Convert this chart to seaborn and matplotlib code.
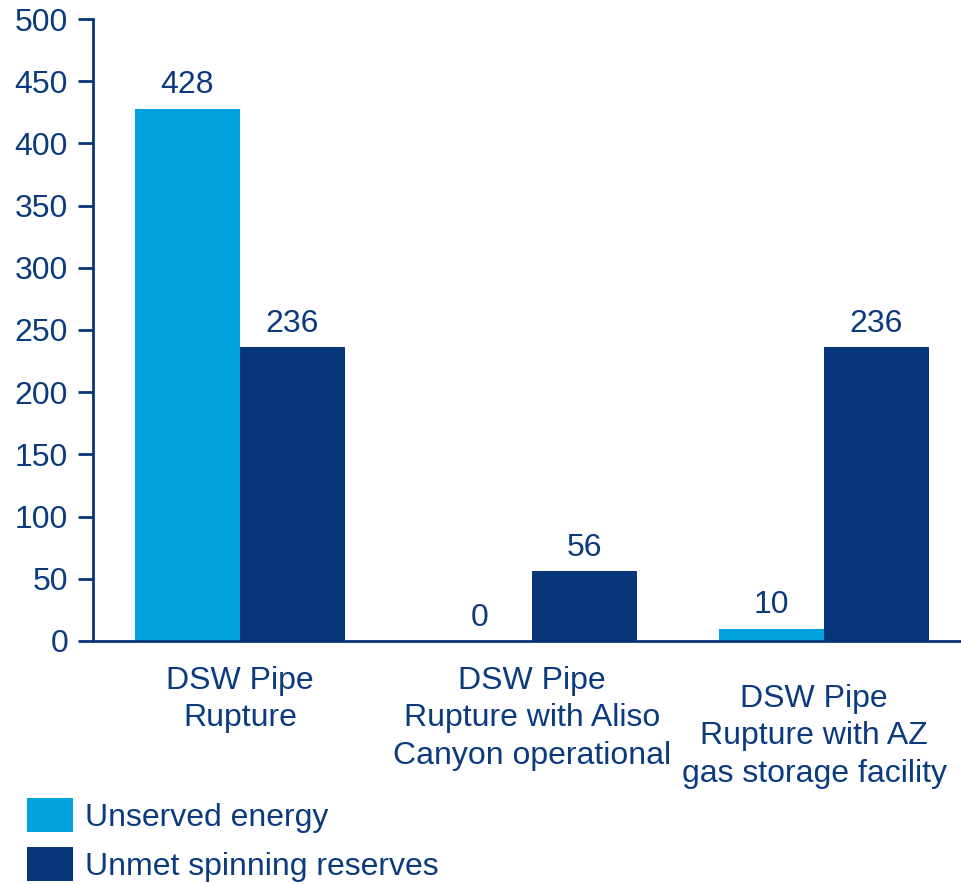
import matplotlib
matplotlib.use("Agg")
import matplotlib.pyplot as plt
import matplotlib.transforms as mtransforms
from matplotlib.patches import Patch
import seaborn as sns
import pandas as pd

scenarios = [
    "DSW Pipe\nRupture",
    "DSW Pipe\nRupture with Aliso\nCanyon operational",
    "DSW Pipe\nRupture with AZ\ngas storage facility",
]
series_names = ["Unserved energy", "Unmet spinning reserves"]
unserved_energy = [428, 0, 10]
unmet_reserves = [236, 56, 236]
y_ticks = [0, 50, 100, 150, 200, 250, 300, 350, 400, 450, 500]

LIGHT = "#00A3E0"
DARK = "#08367A"
TEXT = "#0B3A7E"
FS = 23

sns.set_theme(style="white")
plt.rcParams["font.family"] = ["Liberation Sans", "DejaVu Sans"]

df = pd.DataFrame({
    "scenario": scenarios * 2,
    "series": [series_names[0]] * 3 + [series_names[1]] * 3,
    "value": unserved_energy + unmet_reserves,
})

fig = plt.figure(figsize=(9.61, 8.84), dpi=100)
ax = fig.add_axes([0.0968, 0.2749, 0.9032, 0.7036])

sns.barplot(data=df, x="scenario", y="value", hue="series",
            palette=[LIGHT, DARK], width=0.72, saturation=1,
            linewidth=0, legend=False, ax=ax)

for cont in ax.containers:
    ax.bar_label(cont, labels=[f"{v:g}" for v in cont.datavalues],
                 padding=6, fontsize=FS, color=TEXT)

ax.set_ylim(0, 500)
ax.set_xlim(-0.503, 2.47)
ax.set_yticks(y_ticks)
ax.set_xlabel("")
ax.set_ylabel("")

for side in ("top", "right"):
    ax.spines[side].set_visible(False)
for side in ("left", "bottom"):
    ax.spines[side].set_color(DARK)
    ax.spines[side].set_linewidth(2)

ax.tick_params(axis="y", which="major", direction="out", length=11, width=2,
               color=DARK, labelsize=FS, labelcolor=TEXT, pad=7, left=True)
ax.tick_params(axis="x", bottom=False, labelbottom=False)

# category labels below the axis, centred under each group
trans = mtransforms.blended_transform_factory(ax.transData, ax.transAxes)
label_offsets = [(0.0, -0.040), (0.0, -0.040), (-0.033, -0.069)]
for i, (name, (dx, dy)) in enumerate(zip(scenarios, label_offsets)):
    ax.text(i + dx, dy, name, transform=trans, ha="center", va="top",
            fontsize=FS, color=TEXT, linespacing=1.33)

handles = [Patch(facecolor=LIGHT, edgecolor="none"),
           Patch(facecolor=DARK, edgecolor="none")]
fig.legend(handles, series_names, loc="lower left",
           bbox_to_anchor=(0.0146, -0.012), frameon=False, fontsize=FS,
           labelcolor=TEXT, handlelength=1.45, handleheight=1.25,
           handletextpad=0.38, labelspacing=0.45, borderaxespad=0)

fig.savefig("out.png", dpi=100)
